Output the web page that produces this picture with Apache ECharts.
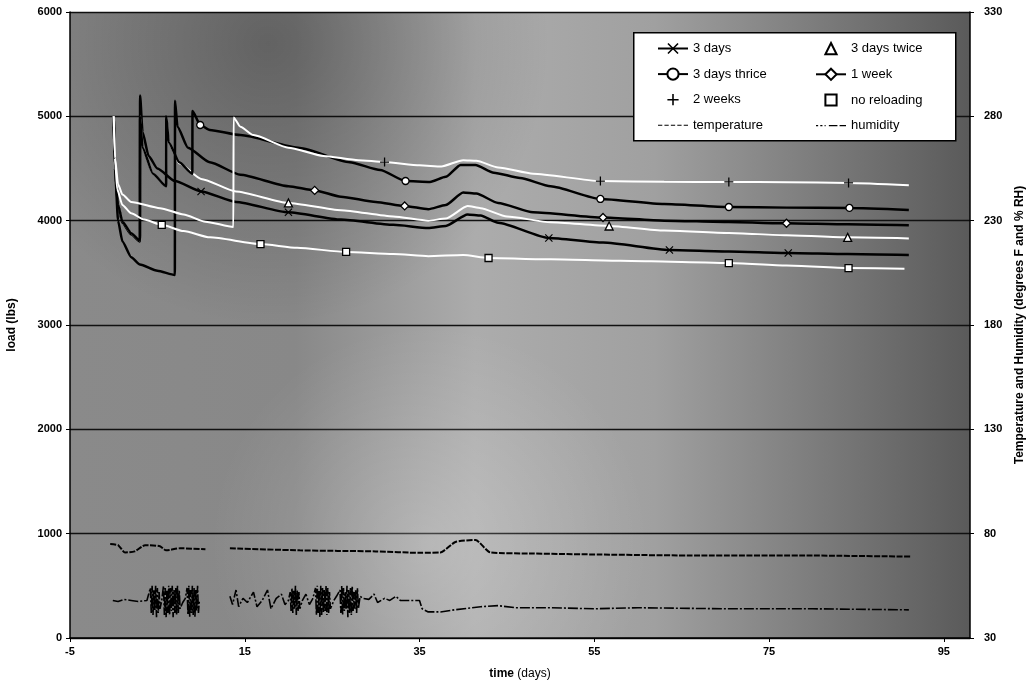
<!DOCTYPE html>
<html><head><meta charset="utf-8">
<script src="https://cdn.jsdelivr.net/npm/echarts@6/dist/echarts.min.js"></script>
<style>html,body{margin:0;padding:0;background:#fff}#c{width:1027px;height:682px}</style>
</head><body><div id="c"></div>
<script>
// ---- tick labels ----
const xTicks = [-5, 15, 35, 55, 75, 95];
const rightTicks = [30, 80, 130, 180, 230, 280, 330];

// ---- load series: [day, load lbs] ----
const threeDays = [[0,5000],[0.15,4500],[0.5,4150],[1,3980],[2,3870],[3,3800],[3.02,5200],[3.3,4850],[4,4620],[5,4500],[7,4380],[10,4280],[14,4180],[20,4080],[26,4010],[32,3960],[36,3930],[38,3950],[40.5,4060],[42,4050],[44,3980],[49.8,3834],[56,3790],[63.6,3719],[70.4,3705],[77.2,3690],[84,3680],[91,3670]];
const threeDaysMarks = [10, 20, 49.8, 63.6, 77.2];

const threeDaysTwice = [[0,5000],[0.15,4500],[0.5,4150],[1,3990],[2,3880],[3,3810],[3.02,5000],[3.3,4700],[4.5,4450],[6,4330],[6.02,5000],[6.3,4750],[7.5,4550],[10,4400],[14,4280],[20,4170],[26,4100],[32,4040],[36,4000],[38,4020],[40.5,4140],[42,4120],[45,4040],[50,3985],[56.7,3949],[63,3905],[70.4,3882],[77,3860],[84,3840],[91,3830]];
const threeDaysTwiceMarks = [20, 56.7, 84];

const threeDaysThrice = [[0,5000],[0.15,4500],[0.5,4150],[1,3990],[2,3880],[3,3810],[3.02,5000],[3.3,4700],[4.5,4450],[6,4330],[6.02,5000],[6.3,4750],[7.5,4560],[9,4450],[9.02,5050],[9.9,4917],[11,4870],[14.5,4821],[21.3,4697],[27,4560],[30.5,4486],[33.4,4380],[36.2,4371],[38,4420],[39.7,4534],[41.4,4534],[43.5,4460],[46.5,4409],[50,4330],[55.7,4208],[63,4160],[70.4,4131],[77,4125],[84.2,4122],[91,4103]];
const threeDaysThriceMarks = [9.9, 33.4, 55.7, 70.4, 84.2];

const oneWeek = [[0,5000],[0.15,4500],[0.5,4000],[1,3800],[2,3650],[3,3580],[5,3520],[7,3480],[7.02,5150],[7.3,4900],[8.5,4700],[11,4560],[14.5,4440],[20,4330],[23,4290],[26,4230],[30,4180],[33.3,4141],[36,4110],[38,4150],[40,4270],[41.5,4260],[44,4170],[48,4080],[56,4030],[63,4000],[70.4,3987],[77,3975],[84,3965],[91,3955]];
const oneWeekMarks = [23, 33.3, 56, 77];

const twoWeeks = [[0,5000],[0.15,4600],[0.5,4350],[1,4250],[2,4180],[5.3,4120],[8,4060],[10.5,3990],[13.7,3940],[13.72,4990],[14.5,4900],[16,4820],[20,4700],[24,4620],[28,4580],[31,4562],[35,4530],[37.5,4520],[40,4580],[41.5,4575],[44,4510],[48,4450],[55.7,4380],[63,4372],[70.4,4371],[77,4368],[84.1,4362],[91,4340]];
const twoWeeksMarks = [31, 55.7, 70.4, 84.1];

const noReloading = [[0,5000],[0.15,4600],[0.4,4300],[1,4150],[2,4070],[3.5,4010],[5.5,3960],[8,3900],[11,3840],[16.8,3776],[21,3740],[26.6,3700],[32,3680],[36,3660],[40,3670],[42.9,3642],[50,3630],[58,3615],[65,3605],[70.4,3594],[77,3570],[84.1,3546],[90.5,3540]];
const noReloadingMarks = [5.5, 16.8, 26.6, 42.9, 70.4, 84.1];

// ---- environment (right axis): [day, value] ----
const temperature = [[-0.4,75],[0.5,74.5],[1.3,71],[2.4,71.5],[3.6,74.5],[5.3,74],[6,72],[7.6,73],[10.5,72.5],[11.9,null],[13.3,73],[21.3,72],[30,71.5],[35.1,70.8],[37.4,71],[39.1,76],[41.4,77],[43.1,71],[48,70.5],[55.7,70],[67.2,69.5],[80,69.5],[91.2,69]];

const humidity = [[-0.1,48],[0.5,47.5],[1.2,48.5],[2,48],[2.8,47.5],[3.8,48],
[4.2,54],[4.3,42],[4.4,55],[4.5,41],[4.6,53],[4.7,43],[4.8,55],[4.9,40],[5.0,54],[5.1,42],[5.2,52],[5.3,44],[5.5,48],
[5.7,55],[5.8,41],[5.9,54],[6.0,40],[6.1,53],[6.2,42],[6.3,55],[6.4,41],[6.5,54],[6.6,43],[6.7,55],[6.8,40],[6.9,53],[7.0,42],[7.1,54],[7.2,41],[7.3,55],[7.4,42],[7.5,53],[7.6,44],
[7.9,47],[8.2,49],
[8.4,54],[8.5,41],[8.6,55],[8.7,40],[8.8,53],[8.9,42],[9.0,55],[9.1,41],[9.2,54],[9.3,40],[9.4,53],[9.5,43],[9.6,55],[9.7,42],[9.8,48],
[11.5,null],
[13.3,50],[13.6,46],[14,53],[14.3,45],[14.8,49],[15.3,47],[16,52],[16.4,45],[17,48],[17.6,53],[18,44],[18.6,49],[19.2,51],[19.6,46],[20,48],
[20.2,52],[20.3,43],[20.4,54],[20.5,42],[20.6,53],[20.7,44],[20.8,55],[20.9,41],[21.0,53],[21.1,43],[21.2,52],[21.3,44],
[21.6,48],[22,51],[22.4,46],[22.8,49],
[23.1,54],[23.2,41],[23.3,55],[23.4,42],[23.5,53],[23.6,40],[23.7,55],[23.8,41],[23.9,54],[24.0,42],[24.1,53],[24.2,43],[24.3,55],[24.4,41],[24.5,54],[24.6,42],[24.7,52],[24.8,44],
[25.2,48],[25.5,50],
[25.9,53],[26.0,42],[26.1,55],[26.2,41],[26.3,54],[26.4,43],[26.5,52],[26.6,44],[26.7,55],[26.8,40],[26.9,53],[27.0,42],[27.1,54],[27.2,41],[27.3,55],[27.4,43],[27.5,52],[27.6,44],[27.7,53],[27.8,42],[27.9,54],[28.0,44],[28.2,50],
[28.5,49],[29.2,48.5],[29.8,51],[30.2,47],[31,49],[31.6,48],[32.3,50],[32.8,48],[33.5,48],[35,48],
[35.3,44],[36,42.5],[37.4,42.5],[39,43.5],[42,45],[44,45.5],[46,44.5],[50,44.5],[55,44],[60,44.5],[70,44],[80,44],[91,43.5]];

// ---- build ----
const FONT = '"Liberation Sans", Arial, sans-serif';
const X_SYM = 'path://M1,0L5,4L9,0L10,1L6,5L10,9L9,10L5,6L1,10L0,9L4,5L0,1Z';
const PLUS_SYM = 'path://M4.3,0H5.7V4.3H10V5.7H5.7V10H4.3V5.7H0V4.3H4.3Z';
const DASH_ICON = 'path://M0,9H4V10H0Z M6,9H10V10H6Z M12,9H16V10H12Z M18,9H22V10H18Z M24,9H28V10H24Z';
const DASHDOT_ICON = 'path://M0,9H2V10H0Z M4,9H6V10H4Z M8,9H9V10H8Z M12,9H20V10H12Z M22,9H28V10H22Z';

function build(points, marks) {
  return points.map(p => marks.indexOf(p[0]) >= 0 ? {value: p} : {value: p, symbol: 'none'});
}
function loadSeries(name, points, marks, lineColor, symbol, symSize, fill) {
  return {
    name, type: 'line', yAxisIndex: 0, data: build(points, marks),
    showSymbol: true, showAllSymbol: true, symbol, symbolSize: symSize,
    smooth: 0.2, smoothMonotone: 'x',
    lineStyle: {color: lineColor, width: lineColor === '#000' ? 2.5 : 2},
    itemStyle: fill ? {color: fill, borderColor: '#000', borderWidth: 1.3} : {color: '#000', borderWidth: 0},
    z: 3
  };
}

const chart = echarts.init(document.getElementById('c'), null, {renderer: 'canvas'});
const legendText = {fontFamily: FONT, fontSize: 13, color: '#000'};
const plain = v => String(v);
chart.setOption({
  animation: false,
  backgroundColor: '#fff',
  grid: {
    left: 70, right: 57, top: 12, bottom: 44, show: true, borderWidth: 0, outerBoundsMode: 'none', containLabel: false,
    backgroundColor: new echarts.graphic.LinearGradient(0, 0, 1, 0, [
      {offset: 0, color: '#8a8a8a'}, {offset: 0.25, color: '#888888'}, {offset: 0.45, color: '#acacac'},
      {offset: 0.65, color: '#a0a0a0'}, {offset: 0.85, color: '#787878'}, {offset: 1, color: '#5a5a5a'}])
  },
  graphic: [{
    type: 'rect', left: 70, top: 12, z: 1, silent: true,
    shape: {width: 900, height: 626},
    style: {fill: new echarts.graphic.RadialGradient(0.22, 0.05, 0.45, [
      {offset: 0, color: 'rgba(0,0,0,0.28)'}, {offset: 1, color: 'rgba(0,0,0,0)'}])}
  }, {
    type: 'rect', left: 70, top: 12, z: 1, silent: true,
    shape: {width: 900, height: 626},
    style: {fill: new echarts.graphic.RadialGradient(0.4, 0.85, 0.35, [
      {offset: 0, color: 'rgba(255,255,255,0.22)'}, {offset: 1, color: 'rgba(255,255,255,0)'}])}
  }, {
    type: 'rect', left: 633, top: 32, z: 10,
    shape: {width: 322, height: 108},
    style: {fill: '#fff', stroke: '#000', lineWidth: 1.5}
  }],
  legend: [
    {data: ['3 days', '3 days thrice', '2 weeks', {name: 'temperature', icon: DASH_ICON}], orient: 'vertical', left: 652, top: 37,
     itemWidth: 30, itemHeight: 14, itemGap: 12.5, textStyle: legendText, z: 20, inactiveColor: '#000'},
    {data: ['3 days twice', '1 week', 'no reloading', {name: 'humidity', icon: DASHDOT_ICON}], orient: 'vertical', left: 810, top: 37,
     itemWidth: 30, itemHeight: 14, itemGap: 12.5, textStyle: legendText, z: 20, inactiveColor: '#000'}
  ],
  xAxis: {
    type: 'value', min: -5, max: 98,
    name: '{b|time} {n|(days)}', nameLocation: 'middle', nameGap: 30,
    nameTextStyle: {rich: {b: {fontFamily: FONT, fontSize: 12, fontWeight: 'bold', color: '#000'}, n: {fontFamily: FONT, fontSize: 12, color: '#000'}}},
    axisLine: {onZero: false, lineStyle: {color: '#000', width: 1.5}},
    axisTick: {customValues: xTicks, length: 4, lineStyle: {color: '#000'}},
    axisLabel: {customValues: xTicks, formatter: plain, fontFamily: FONT, fontSize: 11, fontWeight: 'bold', color: '#000', margin: 8},
    splitLine: {show: false}
  },
  yAxis: [{
    type: 'value', min: 0, max: 6000, interval: 1000, position: 'left',
    name: 'load (lbs)', nameLocation: 'middle', nameGap: 52,
    nameTextStyle: {fontFamily: FONT, fontSize: 12, fontWeight: 'bold', color: '#000'},
    axisLine: {show: true, onZero: false, lineStyle: {color: '#000', width: 1.5}},
    axisTick: {show: true, length: 4, lineStyle: {color: '#000'}},
    axisLabel: {formatter: plain, fontFamily: FONT, fontSize: 11, fontWeight: 'bold', color: '#000', margin: 8},
    splitLine: {show: true, lineStyle: {color: '#111', width: 1.3}}
  }, {
    type: 'value', min: 30, max: 330, position: 'right',
    name: 'Temperature and Humidity (degrees F and % RH)', nameLocation: 'middle', nameGap: 44, nameRotate: 90,
    nameTextStyle: {fontFamily: FONT, fontSize: 12, fontWeight: 'bold', color: '#000'},
    axisLine: {show: true, onZero: false, lineStyle: {color: '#000', width: 1.5}},
    axisTick: {show: true, customValues: rightTicks, length: 4, lineStyle: {color: '#000'}},
    axisLabel: {customValues: rightTicks, formatter: plain, fontFamily: FONT, fontSize: 11, fontWeight: 'bold', color: '#000', margin: 14},
    splitLine: {show: false}
  }],
  series: [
    loadSeries('3 days', threeDays, threeDaysMarks, '#000', X_SYM, 8, null),
    loadSeries('3 days twice', threeDaysTwice, threeDaysTwiceMarks, '#fff', 'triangle', 8, '#fff'),
    loadSeries('3 days thrice', threeDaysThrice, threeDaysThriceMarks, '#000', 'circle', 7, '#fff'),
    loadSeries('1 week', oneWeek, oneWeekMarks, '#000', 'diamond', 8, '#fff'),
    loadSeries('2 weeks', twoWeeks, twoWeeksMarks, '#fff', PLUS_SYM, 9, null),
    loadSeries('no reloading', noReloading, noReloadingMarks, '#fff', 'rect', 7, '#fff'),
    {name: 'temperature', type: 'line', yAxisIndex: 1, data: temperature, showSymbol: false, symbol: 'none',
     smooth: 0.2, connectNulls: false, lineStyle: {color: '#000', width: 2, type: [6, 1.5]}, itemStyle: {color: '#000'}, z: 3},
    {name: 'humidity', type: 'line', yAxisIndex: 1, data: humidity, showSymbol: false, symbol: 'none',
     connectNulls: false, lineStyle: {color: '#000', width: 1.6, type: [10, 2, 2, 2]}, itemStyle: {color: '#000'}, z: 3}
  ]
});
</script></body></html>
